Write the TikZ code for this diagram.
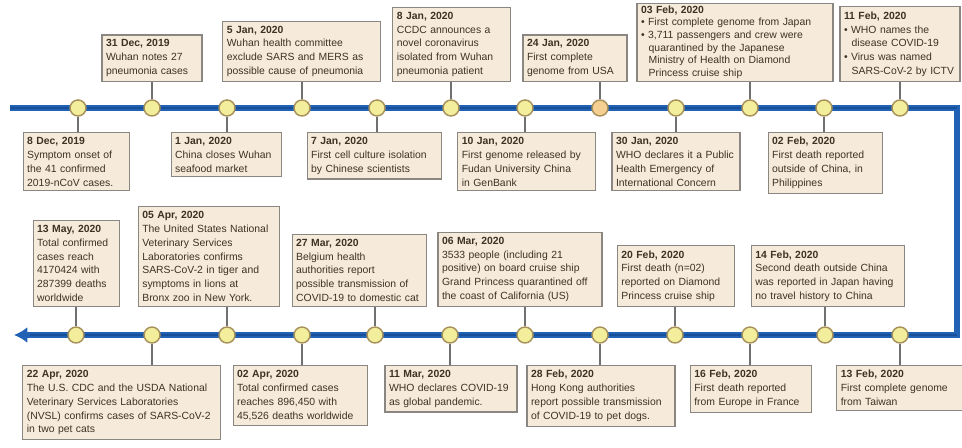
\documentclass[tikz,border=0pt]{standalone}
\usepackage{fontspec}
\setmainfont{Liberation Sans}
\usetikzlibrary{arrows.meta}

\definecolor{tlblue}{HTML}{2262B4}
\definecolor{tlcore}{HTML}{174F9A}
\definecolor{dotfill}{HTML}{F2EE9C}
\definecolor{dotpeach}{HTML}{F6CF93}
\definecolor{dotedge}{HTML}{A8925C}
\definecolor{boxfill}{HTML}{F6EADA}
\definecolor{boxedge}{HTML}{8A8782}
\definecolor{stemgray}{HTML}{707070}
\definecolor{ink}{HTML}{3E3224}

\begin{document}
\begin{tikzpicture}[
	x=0.75pt, y=-0.75pt,
	timeline/.style={line width=4.6pt, draw=tlblue, line join=miter},
	dot/.style={circle, draw=dotedge, fill=dotfill, line width=1.1pt, minimum size=12pt, inner sep=0pt},
	event/.style={draw=boxedge, fill=boxfill, line width=0.8pt, align=left, inner xsep=3pt, inner ysep=3.5pt,
		font=\fontsize{7.8}{10.4}\selectfont, text=ink},
	stem/.style={draw=stemgray, line width=1pt}
]
\useasboundingbox (0,0) rectangle (962,448);

% timeline path
\coordinate (tstart) at (10,108);
\coordinate (tturn1) at (957,108);
\coordinate (tturn2) at (957,335);
\coordinate (tend) at (14,335);
\draw[timeline, -{Latex[length=10pt,width=12pt]}] (tstart) -- (tturn1) -- (tturn2) -- (tend);
\draw[line width=1.6pt, tlcore] (tstart) -- (tturn1);
\draw[line width=1.6pt, tlcore] (tturn2) -- (30,335);

% upper row of dots
\node[dot] (t1) at (78,108) {};
\node[dot] (t2) at (152,108) {};
\node[dot] (t3) at (227,108) {};
\node[dot] (t4) at (302,108) {};
\node[dot] (t5) at (377,108) {};
\node[dot] (t6) at (451,108) {};
\node[dot] (t7) at (525,108) {};
\node[dot, fill=dotpeach] (t8) at (600,108) {};
\node[dot] (t9) at (676,108) {};
\node[dot] (t10) at (750,108) {};
\node[dot] (t11) at (824,108) {};
\node[dot] (t12) at (900,108) {};

% lower row of dots
\node[dot] (u1) at (76,335) {};
\node[dot] (u2) at (152,335) {};
\node[dot] (u3) at (227,335) {};
\node[dot] (u4) at (302,335) {};
\node[dot] (u5) at (375,335) {};
\node[dot] (u6) at (450,335) {};
\node[dot] (u7) at (525,335) {};
\node[dot] (u8) at (600,335) {};
\node[dot] (u9) at (675,335) {};
\node[dot] (u10) at (750,335) {};
\node[dot] (u11) at (825,335) {};
\node[dot] (u12) at (900,335) {};

% upper row, events below the line
\node[event, text width=74pt, anchor=north] (b1) at (76.5,132)
	{\textbf{8 Dec, 2019}\\Symptom onset of\\the 41 confirmed\\2019-nCoV cases.};
\node[event, text width=77pt, anchor=north] (b3) at (226.5,132)
	{\textbf{1 Jan, 2020}\\China closes Wuhan\\seafood market};
\node[event, text width=95pt, anchor=north] (b5) at (374.5,132)
	{\textbf{7 Jan, 2020}\\First cell culture isolation\\by Chinese scientists};
\node[event, text width=97pt, anchor=north] (b7) at (526.5,132)
	{\textbf{10 Jan, 2020}\\First genome released by\\Fudan University China\\in GenBank};
\node[event, text width=90pt, anchor=north] (b9) at (676,132)
	{\textbf{30 Jan, 2020}\\WHO declares it a Public\\Health Emergency of\\International Concern};
\node[event, text width=80pt, anchor=north] (b11) at (825.5,132)
	{\textbf{02 Feb, 2020}\\First death reported\\outside of China, in\\Philippines};

% upper row, events above the line
\node[event, text width=69pt, anchor=south] (b2) at (152,82)
	{\textbf{31 Dec, 2019}\\Wuhan notes 27\\pneumonia cases};
\node[event, text width=112pt, anchor=south] (b4) at (301.5,82)
	{\textbf{5 Jan, 2020}\\Wuhan health committee\\exclude SARS and MERS as\\possible cause of pneumonia};
\node[event, text width=82pt, anchor=south] (b6) at (451.5,82)
	{\textbf{8 Jan, 2020}\\CCDC announces a\\novel coronavirus\\isolated from Wuhan\\pneumonia patient};
\node[event, text width=72pt, anchor=south] (b8) at (575,82)
	{\textbf{24 Jan, 2020}\\First complete\\genome from USA};
\node[event, text width=141pt, anchor=south, inner ysep=2pt, font=\fontsize{7.8}{9.5}\selectfont] (b10) at (735,82)
	{\textbf{03 Feb, 2020}\\\textbullet{} First complete genome from Japan\\\textbullet{} 3,711 passengers and crew were\\\hspace*{1.4ex}quarantined by the Japanese\\\hspace*{1.4ex}Ministry of Health on Diamond\\\hspace*{1.4ex}Princess cruise ship};
\node[event, text width=84pt, anchor=south] (b12) at (900,82)
	{\textbf{11 Feb, 2020}\\\textbullet{} WHO names the\\\hspace*{1.4ex}disease COVID-19\\\textbullet{} Virus was named\\\hspace*{1.4ex}SARS-CoV-2 by ICTV};

% lower row, events above the line
\node[event, text width=59pt, anchor=south] (d1) at (76.5,307)
	{\textbf{13 May, 2020}\\Total confirmed\\cases reach\\4170424 with\\287399 deaths\\worldwide};
\node[event, text width=100pt, anchor=south] (d3) at (209,307)
	{\textbf{05 Apr, 2020}\\The United States National\\Veterinary Services\\Laboratories confirms\\SARS-CoV-2 in tiger and\\symptoms in lions at\\Bronx zoo in New York.};
\node[event, text width=95pt, anchor=south] (d5) at (359.5,307)
	{\textbf{27 Mar, 2020}\\Belgium health\\authorities report\\possible transmission of\\COVID-19 to domestic cat};
\node[event, text width=117pt, anchor=south] (d7) at (520,307)
	{\textbf{06 Mar, 2020}\\3533 people (including 21\\positive) on board cruise ship\\Grand Princess quarantined off\\the coast of California (US)};
\node[event, text width=82pt, anchor=south] (d9) at (676,307)
	{\textbf{20 Feb, 2020}\\First death (n=02)\\reported on Diamond\\Princess cruise ship};
\node[event, text width=109pt, anchor=south] (d11) at (828,307)
	{\textbf{14 Feb, 2020}\\Second death outside China\\was reported in Japan having\\no travel history to China};

% lower row, events below the line
\node[event, text width=142pt, anchor=north] (d2) at (121.5,365)
	{\textbf{22 Apr, 2020}\\The U.S. CDC and the USDA National\\Veterinary Services Laboratories\\(NVSL) confirms cases of SARS-CoV-2\\in two pet cats};
\node[event, text width=95pt, anchor=north] (d4) at (300.5,365)
	{\textbf{02 Apr, 2020}\\Total confirmed cases\\reaches 896,450 with\\45,526 deaths worldwide};
\node[event, text width=93pt, anchor=north] (d6) at (451,365)
	{\textbf{11 Mar, 2020}\\WHO declares COVID-19\\as global pandemic.};
\node[event, text width=105pt, anchor=north] (d8) at (601,365)
	{\textbf{28 Feb, 2020}\\Hong Kong authorities\\report possible transmission\\of COVID-19 to pet dogs.};
\node[event, text width=85pt, anchor=north] (d10) at (751,365)
	{\textbf{16 Feb, 2020}\\First death reported\\from Europe in France};
\node[event, text width=88pt, anchor=north] (d12) at (899.5,365)
	{\textbf{13 Feb, 2020}\\First complete genome\\from Taiwan};

% stems
\draw[stem] (t1) -- (t1 |- b1.north);
\draw[stem] (t2) -- (t2 |- b2.south);
\draw[stem] (t3) -- (t3 |- b3.north);
\draw[stem] (t4) -- (t4 |- b4.south);
\draw[stem] (t5) -- (t5 |- b5.north);
\draw[stem] (t6) -- (t6 |- b6.south);
\draw[stem] (t7) -- (t7 |- b7.north);
\draw[stem] (t8) -- (t8 |- b8.south);
\draw[stem] (t9) -- (t9 |- b9.north);
\draw[stem] (t10) -- (t10 |- b10.south);
\draw[stem] (t11) -- (t11 |- b11.north);
\draw[stem] (t12) -- (t12 |- b12.south);

\draw[stem] (u1) -- (u1 |- d1.south);
\draw[stem] (u2) -- (u2 |- d2.north);
\draw[stem] (u3) -- (u3 |- d3.south);
\draw[stem] (u4) -- (u4 |- d4.north);
\draw[stem] (u5) -- (u5 |- d5.south);
\draw[stem] (u6) -- (u6 |- d6.north);
\draw[stem] (u7) -- (u7 |- d7.south);
\draw[stem] (u8) -- (u8 |- d8.north);
\draw[stem] (u9) -- (u9 |- d9.south);
\draw[stem] (u10) -- (u10 |- d10.north);
\draw[stem] (u11) -- (u11 |- d11.south);
\draw[stem] (u12) -- (u12 |- d12.north);
\end{tikzpicture}
\end{document}
